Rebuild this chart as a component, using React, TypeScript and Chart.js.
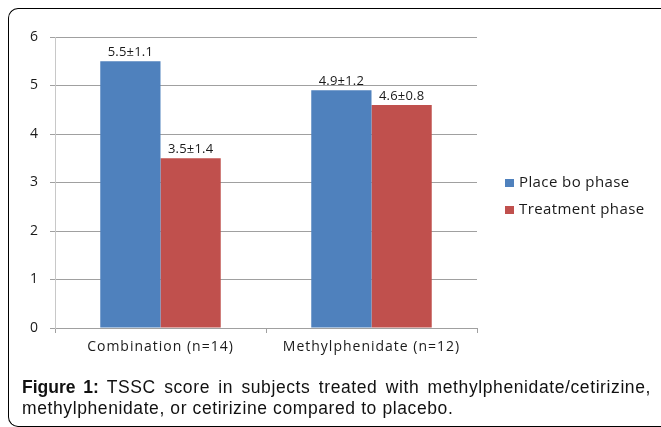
import React, { useEffect, useRef } from "react";
import { Chart, registerables } from "chart.js";

Chart.register(...registerables);

const categories = ["Combination (n=14)", "Methylphenidate (n=12)"];
const seriesNames = ["Place bo phase", "Treatment phase"];
const placeboValues = [5.5, 4.9];
const treatmentValues = [3.5, 4.6];
const placeboLabels = ["5.5±1.1", "4.9±1.2"];
const treatmentLabels = ["3.5±1.4", "4.6±0.8"];
const yTicks = [0, 1, 2, 3, 4, 5, 6];

const BLUE = "#4F81BD";
const RED = "#C0504D";
const FONT = "'Open Sans', 'Noto Sans', sans-serif";

const spacingPlugin = {
  id: "spacing",
  beforeDraw(chart: any) {
    (chart.ctx as any).letterSpacing = "1px";
  },
};

const valueLabelPlugin = {
  id: "valueLabels",
  afterDatasetsDraw(chart: any) {
    const ctx = chart.ctx;
    const all = [placeboLabels, treatmentLabels];
    ctx.save();
    (ctx as any).letterSpacing = "0.2px";
    ctx.font = `13px ${FONT}`;
    ctx.fillStyle = "#1a1a1a";
    ctx.textAlign = "center";
    ctx.textBaseline = "alphabetic";
    chart.data.datasets.forEach((_: any, di: number) => {
      const meta = chart.getDatasetMeta(di);
      meta.data.forEach((el: any, i: number) => {
        ctx.fillText(all[di][i], el.x, el.y - 5);
      });
    });
    ctx.restore();
  },
};

const legendPlugin = {
  id: "customLegend",
  afterDraw(chart: any) {
    const ctx = chart.ctx;
    ctx.save();
    (ctx as any).letterSpacing = "0.4px";
    ctx.font = `15px ${FONT}`;
    ctx.textBaseline = "middle";
    ctx.textAlign = "left";
    chart.data.datasets.forEach((ds: any, i: number) => {
      const cy = 175 + i * 27;
      ctx.fillStyle = ds.backgroundColor;
      ctx.fillRect(497, cy - 4, 9, 8);
      ctx.fillStyle = "#1a1a1a";
      ctx.fillText(ds.label, 511, cy);
    });
    ctx.restore();
  },
};

export default function App() {
  const ref = useRef<HTMLCanvasElement | null>(null);
  useEffect(() => {
    if (!ref.current) return;
    const chart = new Chart(ref.current, {
      type: "bar",
      data: {
        labels: categories,
        datasets: [
          {
            label: seriesNames[0],
            data: placeboValues,
            backgroundColor: BLUE,
            categoryPercentage: 0.571,
            barPercentage: 1,
          },
          {
            label: seriesNames[1],
            data: treatmentValues,
            backgroundColor: RED,
            categoryPercentage: 0.571,
            barPercentage: 1,
          },
        ],
      },
      options: {
        animation: false,
        responsive: false,
        maintainAspectRatio: false,
        layout: { padding: { left: 0, top: 29, right: 184, bottom: 10 } },
        plugins: {
          legend: { display: false },
          tooltip: { enabled: false },
        },
        scales: {
          x: {
            grid: {
              offset: true,
              drawOnChartArea: false,
              drawTicks: true,
              tickLength: 5,
              color: "#a0a0a0",
            },
            border: { color: "#a0a0a0", width: 1 },
            ticks: {
              font: { family: FONT, size: 14 },
              color: "#1a1a1a",
              padding: 6,
            },
            afterFit: (s: any) => {
              s.height = 40;
            },
          },
          y: {
            min: 0,
            max: 6,
            afterBuildTicks: (s: any) => {
              s.ticks = yTicks.map((v) => ({ value: v }));
            },
            grid: {
              color: "#a0a0a0",
              tickLength: 5,
              drawTicks: true,
            },
            border: { color: "#c8c8c8", width: 1 },
            ticks: {
              font: { family: FONT, size: 14 },
              color: "#1a1a1a",
              padding: 11,
            },
            afterFit: (s: any) => {
              s.width = 47;
            },
          },
        },
      },
      plugins: [spacingPlugin, valueLabelPlugin, legendPlugin],
    });
    return () => chart.destroy();
  }, []);

  return (
    <div>
      <div
        style={{
          position: "fixed",
          left: 8,
          top: 8,
          width: 700,
          height: 419,
          boxSizing: "border-box",
          borderTop: "1.5px solid #000",
          borderLeft: "1.5px solid #000",
          borderBottom: "1.5px solid #000",
          borderRight: "none",
          borderTopLeftRadius: 10,
          borderBottomLeftRadius: 10,
          background: "#fff",
        }}
      />
      <canvas
        ref={ref}
        width={653}
        height={370}
        style={{ position: "fixed", left: 8, top: 8, width: 653, height: 370 }}
      />
      <div
        style={{
          position: "fixed",
          left: 22,
          top: 377,
          width: 629,
          fontFamily: "'Liberation Sans', Arial, sans-serif",
          fontSize: 17.5,
          letterSpacing: "0.6px",
          lineHeight: "21px",
          color: "#111",
          textAlign: "justify",
          textAlignLast: "left",
        }}
      >
        <b style={{ letterSpacing: 0 }}>Figure 1:</b> TSSC score in subjects treated with methylphenidate/cetirizine,
        methylphenidate, or cetirizine compared to placebo.
      </div>
    </div>
  );
}
